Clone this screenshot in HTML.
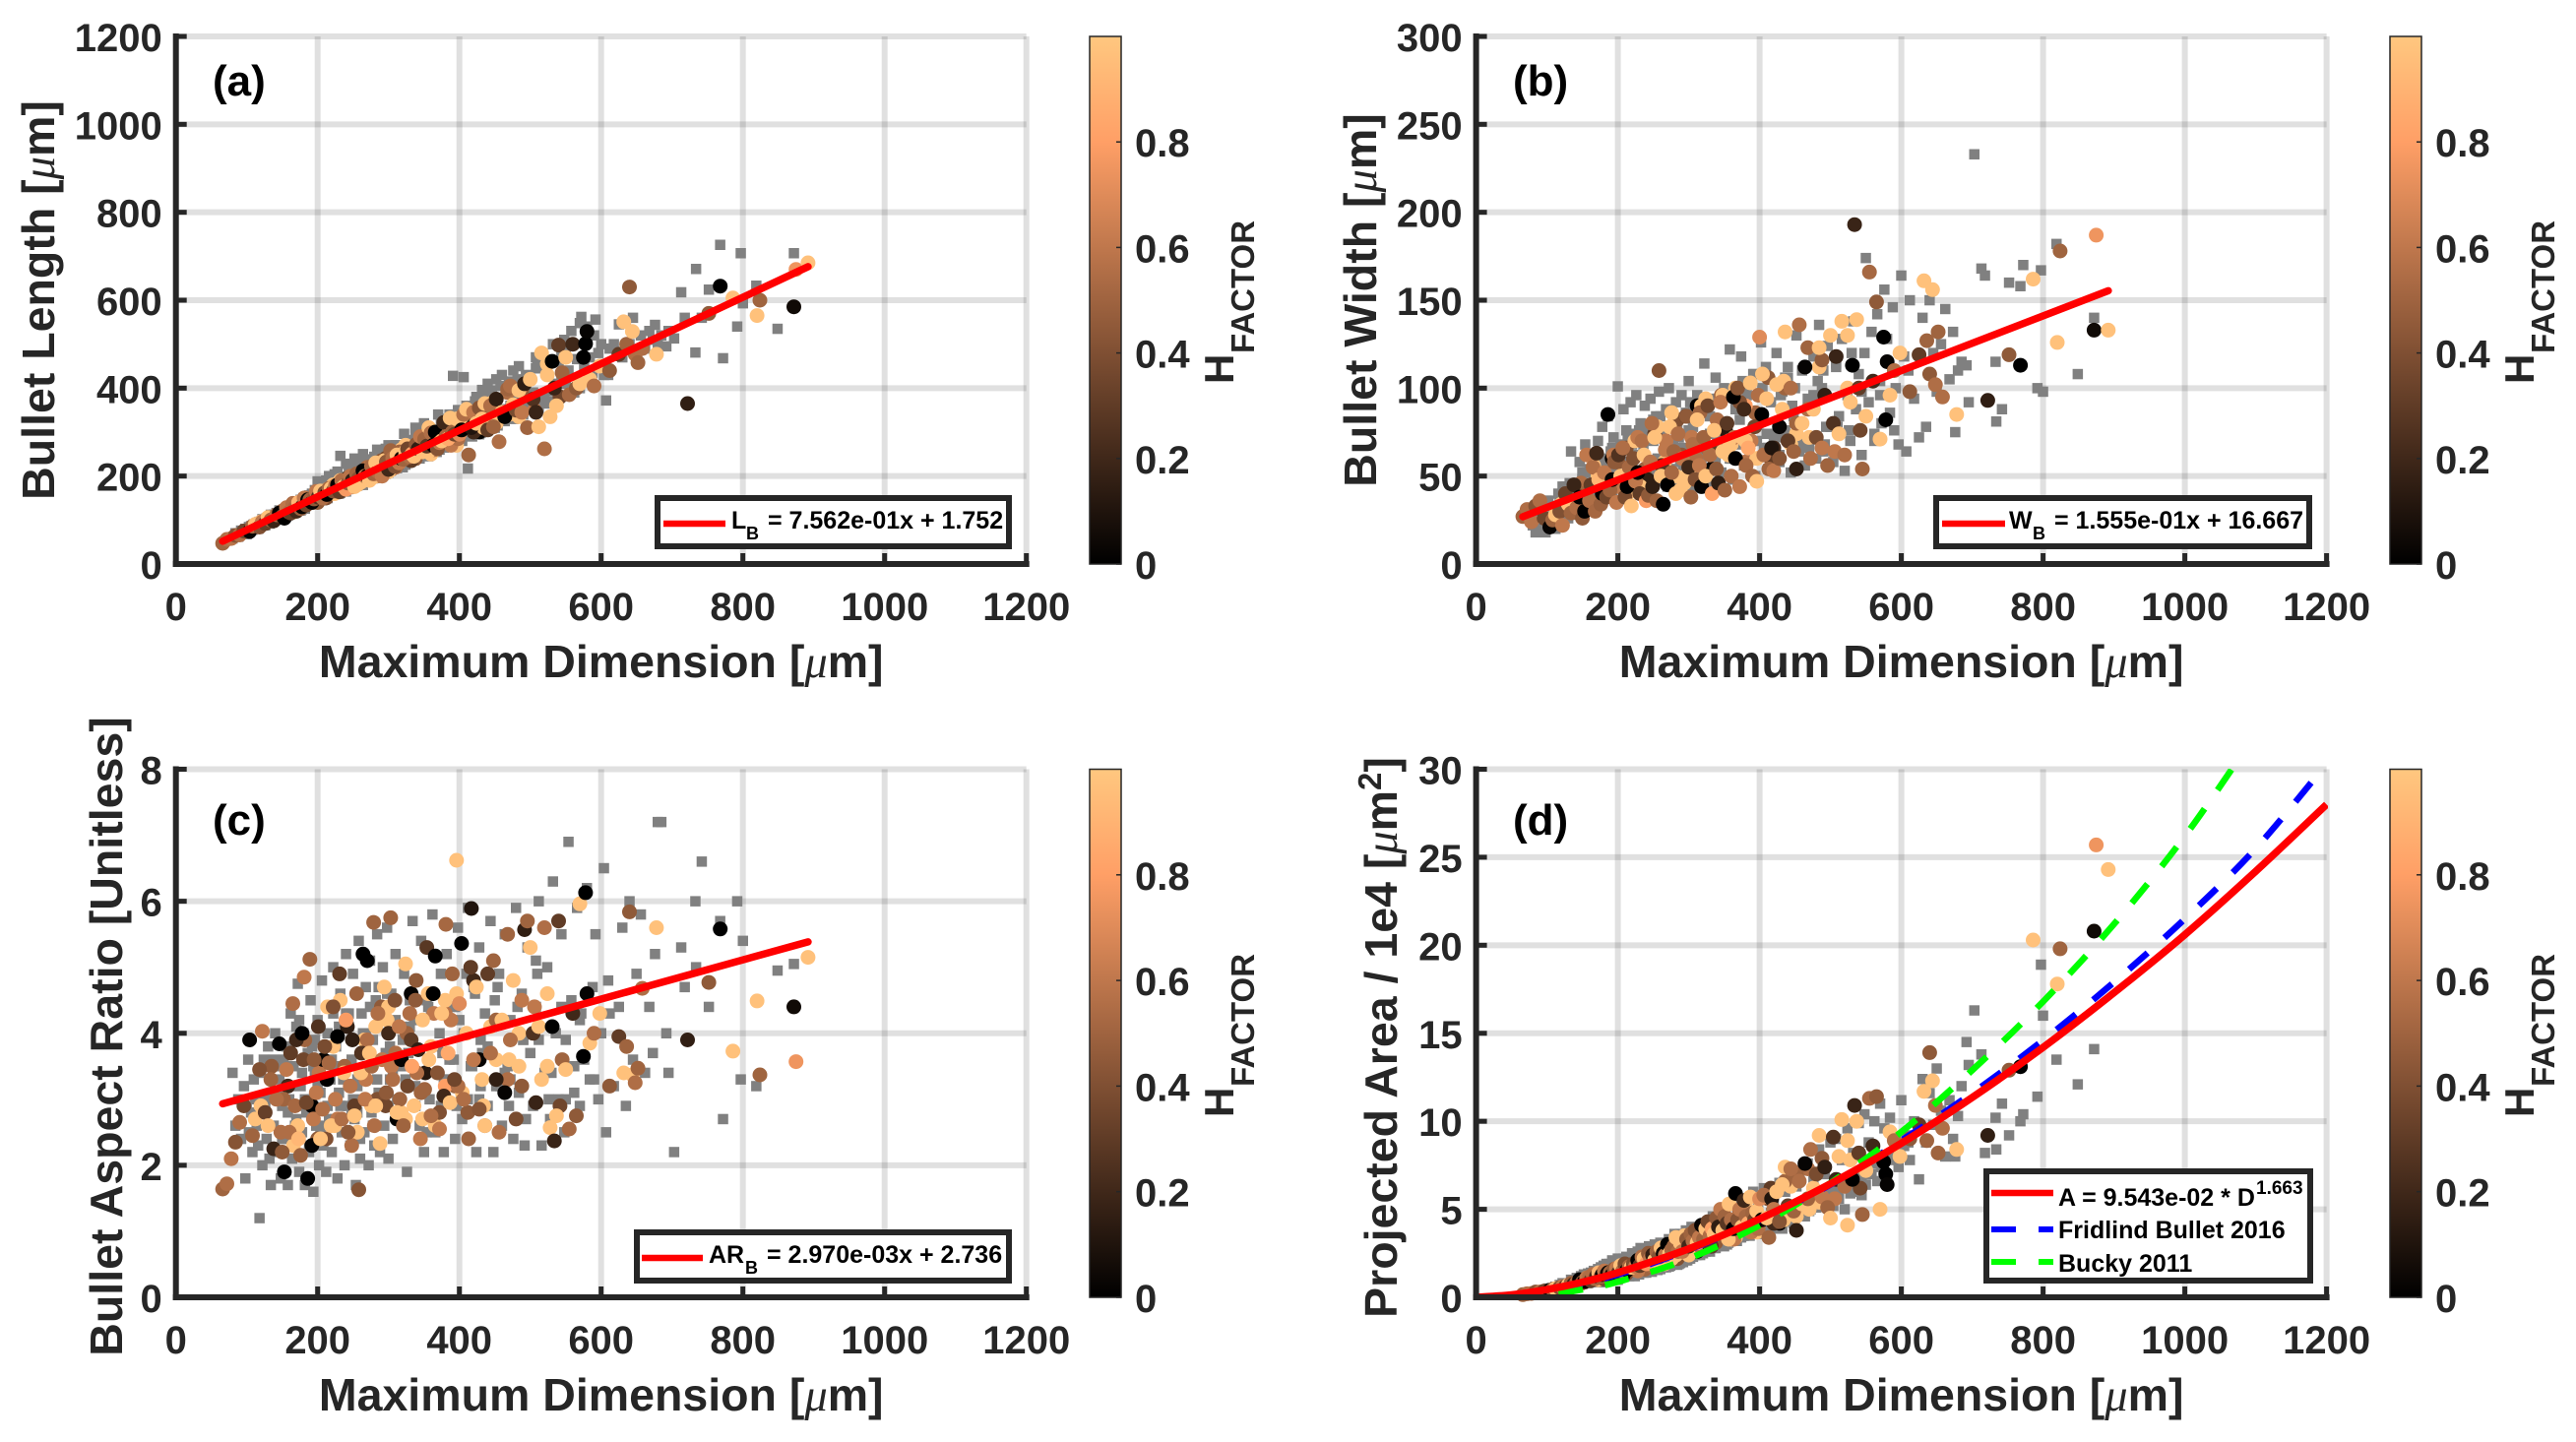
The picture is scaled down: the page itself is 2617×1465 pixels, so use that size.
<!DOCTYPE html>
<html lang="en">
<head>
<meta charset="utf-8">
<title>Bullet rosette geometry vs maximum dimension</title>
<style>
html,body{margin:0;padding:0;background:#fff;}
svg{display:block;}
text{font-family:"Liberation Sans",Arial,sans-serif;font-weight:bold;}
.tick{font-size:40px;fill:#262626;}
.axl{font-size:46.5px;fill:#262626;}
.mu{font-family:"Liberation Serif",serif;font-style:italic;font-weight:normal;}
.tag{font-size:44px;fill:#000;}
.lg{font-size:25px;fill:#000;}
.lgs{font-size:18px;fill:#000;}
.cbh{font-size:42px;fill:#262626;}
.cbs{font-size:33px;fill:#262626;}
</style>
</head>
<body>
<svg id="figure" xmlns="http://www.w3.org/2000/svg" width="2617" height="1465" viewBox="0 0 2617 1465">
<defs>
<linearGradient id="copper-map" x1="0" y1="1" x2="0" y2="0">
<stop offset="0" stop-color="rgb(0,0,0)"/>
<stop offset="0.8" stop-color="rgb(255,159,102)"/>
<stop offset="1" stop-color="rgb(255,199,127)"/>
</linearGradient>
<clipPath id="clip-d"><rect x="1499" y="781" width="866" height="540"/></clipPath>
</defs>

<g id="panel-a">
<g id="layer-a"></g>
<text class="tag" x="216" y="97">(a)</text>
<text class="axl" x="610.7" y="688" text-anchor="middle">Maximum Dimension [<tspan class="mu">μ</tspan>m]</text>
<text class="axl" transform="translate(55,305) rotate(-90)" text-anchor="middle">Bullet Length [<tspan class="mu">μ</tspan>m]</text>
<rect x="668" y="506" width="357" height="49" fill="#fff" stroke="#262626" stroke-width="6"/>
<line x1="674" x2="737" y1="532" y2="532" stroke="#f00" stroke-width="6.5"/>
<text class="lg" x="743" y="537">L</text>
<text class="lgs" x="758" y="548">B</text>
<text class="lg" x="780" y="537">= 7.562e-01x + 1.752</text>
</g>

<g id="panel-b">
<g id="layer-b"></g>
<text class="tag" x="1537" y="97">(b)</text>
<text class="axl" x="1931.6" y="688" text-anchor="middle">Maximum Dimension [<tspan class="mu">μ</tspan>m]</text>
<text class="axl" transform="translate(1398,305) rotate(-90)" text-anchor="middle">Bullet Width [<tspan class="mu">μ</tspan>m]</text>
<rect x="1967" y="506" width="379" height="49" fill="#fff" stroke="#262626" stroke-width="6"/>
<line x1="1973" x2="2037" y1="532" y2="532" stroke="#f00" stroke-width="6.5"/>
<text class="lg" x="2041" y="537">W</text>
<text class="lgs" x="2065" y="548">B</text>
<text class="lg" x="2087" y="537">= 1.555e-01x + 16.667</text>
</g>

<g id="panel-c">
<g id="layer-c"></g>
<text class="tag" x="216" y="848">(c)</text>
<text class="axl" x="610.7" y="1433" text-anchor="middle">Maximum Dimension [<tspan class="mu">μ</tspan>m]</text>
<text class="axl" transform="translate(124,1053) rotate(-90)" text-anchor="middle">Bullet Aspect Ratio [Unitless]</text>
<rect x="647" y="1252" width="378" height="49" fill="#fff" stroke="#262626" stroke-width="6"/>
<line x1="652" x2="714" y1="1278" y2="1278" stroke="#f00" stroke-width="6.5"/>
<text class="lg" x="720" y="1283">AR</text>
<text class="lgs" x="757" y="1294">B</text>
<text class="lg" x="779" y="1283">= 2.970e-03x + 2.736</text>
</g>

<g id="panel-d">
<g id="layer-d"></g>
<text class="tag" x="1537" y="848">(d)</text>
<text class="axl" x="1931.6" y="1433" text-anchor="middle">Maximum Dimension [<tspan class="mu">μ</tspan>m]</text>
<text class="axl" transform="translate(1419,1054) rotate(-90)" text-anchor="middle">Projected Area / 1e4 [<tspan class="mu">μ</tspan>m<tspan dy="-16" font-size="33">2</tspan><tspan dy="16">]</tspan></text>
<rect x="2018" y="1190" width="329" height="111" fill="#fff" stroke="#262626" stroke-width="6"/>
<line x1="2023" x2="2086" y1="1212" y2="1212" stroke="#f00" stroke-width="6.5"/>
<line x1="2023" x2="2086" y1="1249" y2="1249" stroke="#00f" stroke-width="6" stroke-dasharray="25 23"/>
<line x1="2023" x2="2086" y1="1282" y2="1282" stroke="#0f0" stroke-width="6" stroke-dasharray="25 23"/>
<text class="lg" x="2091" y="1225">A = 9.543e-02 * D</text>
<text class="lgs" x="2292" y="1213" style="font-size:19px">1.663</text>
<text class="lg" x="2091" y="1258">Fridlind Bullet 2016</text>
<text class="lg" x="2091" y="1292">Bucky 2011</text>
</g>

<g>
<g><text class="cbh" transform="translate(1253,390) rotate(-90)">H</text><text class="cbs" transform="translate(1274,359) rotate(-90)">FACTOR</text></g>
<g><text class="cbh" transform="translate(2574,390) rotate(-90)">H</text><text class="cbs" transform="translate(2595,359) rotate(-90)">FACTOR</text></g>
<g><text class="cbh" transform="translate(1253,1135) rotate(-90)">H</text><text class="cbs" transform="translate(1274,1104) rotate(-90)">FACTOR</text></g>
<g><text class="cbh" transform="translate(2574,1135) rotate(-90)">H</text><text class="cbs" transform="translate(2595,1104) rotate(-90)">FACTOR</text></g>
</g>
</svg>

<script>
// ---------- tick labels ----------
const xTicks = [0,200,400,600,800,1000,1200];
const yTicksA = [0,200,400,600,800,1000,1200];
const yTicksB = [0,50,100,150,200,250,300];
const yTicksC = [0,2,4,6,8];
const yTicksD = [0,5,10,15,20,25,30];
const cbTicks = [0,0.2,0.4,0.6,0.8];

// ---------- grey (all particles) series ----------
const grayD = [
100,110,116,124,132,144,156,168,178,188,
103,126,138,150,162,174,184,194,204,214,
146,158,170,182,196,208,220,232,244,256,
176,192,206,222,236,250,264,278,292,306,
200,216,230,246,260,274,288,302,316,330,
224,240,256,272,286,300,318,336,354,372,
248,268,284,298,312,328,344,360,378,396,
282,296,310,324,340,358,376,394,412,430,
320,338,356,374,392,410,428,446,464,482,
350,368,386,404,422,440,458,476,494,512,
400,418,436,454,472,490,508,526,544,562,
430,450,470,490,510,530,550,570,590,610,
80,84,88,92,96,98,102,106,108,112,
114,118,120,122,126,128,130,134,136,138,
140,142,146,148,150,152,154,158,160,162,
164,166,170,172,174,176,178,180,182,184,
186,188,190,192,194,196,198,200,202,204,
206,208,210,212,214,216,218,220,222,224,
226,228,230,232,234,236,238,240,242,244,
246,248,250,252,254,256,258,260,262,264,
266,268,270,272,274,276,278,280,282,284,
286,288,290,292,294,296,298,300,302,304,
306,310,314,318,322,326,330,334,338,342,
346,350,354,358,362,366,370,374,378,382,
386,391,394,398,402,406,409,412,416,420,
424,428,432,436,440,444,448,452,456,460,
464,468,472,476,480,484,488,492,496,500,
504,508,512,516,520,524,528,532,536,540,
544,548,550,554,558,562,566,570,572,576,
580,584,588,592,596,600,604,607,612,618,
625,630,635,640,645,650,656,662,668,673,
676,680,685,692,695,703,713,718,733,734,
742,752,768,772,792,797,800,819,849,872];
const grayL = [
68,90,80,100,92,115,110,135,125,150,
84,88,112,104,130,122,150,136,165,150,
122,110,138,126,160,146,178,162,196,178,
122,158,145,180,165,200,180,226,205,250,
142,176,160,200,180,222,200,258,220,272,
180,165,210,190,242,208,265,236,295,260,
175,225,198,255,218,280,240,305,265,340,
240,205,270,226,290,250,330,275,360,298,
220,295,245,325,270,360,295,395,325,420,
300,255,340,280,370,305,405,330,430,355,
350,290,385,315,415,340,445,365,480,390,
380,310,415,345,450,370,490,400,520,430,
58,70,62,76,68,80,72,86,78,90,
80,96,88,102,92,104,94,112,98,110,
100,116,108,120,110,124,118,130,116,128,
122,134,128,142,130,146,132,150,136,148,
140,156,144,160,146,168,150,188,152,170,
152,178,148,190,160,200,162,190,168,204,
172,210,166,246,176,198,180,228,184,210,
184,222,190,240,194,212,200,232,192,250,
200,226,206,238,198,228,210,244,214,260,
218,250,208,234,222,262,226,270,216,236,
240,226,270,238,296,232,282,248,310,258,
262,320,270,306,276,290,340,296,272,330,
300,428,296,350,314,425,330,217,360,322,
380,316,396,340,410,328,370,420,350,430,
352,400,360,440,372,450,380,400,368,420,
390,470,386,480,376,430,394,500,410,460,
420,510,410,440,530,400,466,548,562,450,
540,470,434,556,480,500,430,372,490,500,
545,470,550,500,560,480,520,490,530,510,
544,500,520,495,530,513,618,560,481,671,
560,624,726,468,540,707,593,633,535,707];
const grayW = [
36,24,40,28,46,32,52,38,60,42,
26,44,30,52,36,58,40,66,44,72,
46,34,56,38,62,42,68,46,76,50,
36,66,44,74,48,82,52,70,56,88,
64,42,76,50,84,54,66,92,58,74,
46,72,54,88,62,76,56,94,66,82,
72,50,80,58,96,64,74,60,100,70,
62,84,56,92,70,60,104,78,66,96,
86,60,96,68,108,74,62,90,70,104,
66,92,60,100,74,112,68,96,78,84,
84,60,106,70,92,64,114,76,98,70,
72,100,66,110,78,120,84,96,76,110,
22,18,30,20,26,18,36,24,32,20,
28,38,24,44,30,36,26,64,34,30,
42,28,58,34,48,30,68,40,54,32,
60,44,36,70,50,38,78,46,56,40,
84,48,64,42,72,52,60,101,44,68,
50,88,40,76,58,46,92,54,70,44,
96,62,48,80,52,66,90,42,74,58,
94,50,70,46,84,60,98,48,76,56,
68,88,44,100,54,78,62,50,92,46,
72,58,96,48,66,86,52,104,60,44,
78,50,94,62,114,46,84,56,106,70,
52,100,64,122,48,88,72,118,56,96,
60,108,50,80,126,66,112,54,92,72,
120,58,98,76,106,52,84,130,64,110,
56,94,72,118,60,136,100,68,124,78,
58,112,84,128,53,96,70,138,88,108,
62,120,174,92,132,74,142,104,80,156,
128,86,146,100,68,164,118,64,150,94,
72,140,78,150,120,98,125,145,105,132,
75,110,115,113,92,233,168,164,115,81,
88,160,158,170,100,167,98,182,108,140];
const grayAR = [
2.9,3.3,2.3,3.6,2.1,3.1,3.8,2.6,3.4,2.2,
2.5,3.0,3.6,2.4,3.2,4.2,2.8,3.5,2.5,4.0,
3.5,2.8,4.1,3.0,3.9,2.3,3.6,2.9,4.3,3.3,
2.9,3.8,2.6,4.3,3.3,3.0,4.0,2.6,4.4,3.4,
3.2,2.7,4.1,3.5,2.4,4.4,3.0,3.8,2.7,4.5,
3.5,4.3,2.8,3.7,4.7,2.9,3.5,4.2,2.5,4.0,
2.8,4.0,3.3,4.6,3.0,3.7,2.6,4.3,3.3,2.9,
3.6,2.9,4.2,3.3,4.8,2.7,3.7,4.4,3.0,3.9,
3.9,3.2,4.4,2.9,3.6,4.9,3.0,4.1,3.4,4.4,
3.1,4.3,3.6,2.7,4.6,3.8,3.2,4.8,2.7,3.9,
4.2,3.5,2.6,4.7,3.3,3.9,5.1,3.0,4.4,3.5,
3.2,4.5,2.9,3.9,4.9,3.4,3.0,4.2,3.3,4.8,
3.4,2.6,3.0,2.4,3.2,1.8,3.6,2.8,2.2,3.0,
2.6,1.2,3.4,2.0,2.9,2.4,3.8,1.7,3.1,2.6,
4.0,2.2,3.3,1.8,2.9,3.6,2.4,1.7,3.0,4.3,
2.1,3.5,2.7,4.75,1.9,3.2,2.5,4.0,1.7,2.9,
3.7,2.3,4.5,3.0,1.6,3.4,2.6,4.2,2.0,3.1,
4.8,2.4,3.6,1.9,2.9,4.4,3.3,2.2,5.0,2.7,
3.8,1.8,3.1,4.6,2.5,3.4,2.0,5.2,2.9,4.1,
2.3,3.6,4.9,2.7,1.7,3.2,5.4,2.1,4.3,3.0,
2.5,4.7,3.5,2.0,5.1,2.8,3.9,2.3,4.5,5.5,
3.1,2.2,4.2,5.0,2.6,3.7,5.6,2.1,3.3,4.6,
2.4,5.2,3.6,2.8,4.9,1.9,4.1,5.7,2.9,3.4,
5.4,2.2,4.5,3.0,5.8,2.5,3.8,4.9,2.2,5.2,
3.3,4.4,2.4,5.6,3.0,4.0,2.8,5.9,3.5,4.7,
2.2,5.3,3.7,4.3,2.9,5.7,2.2,3.2,4.9,2.6,
5.5,3.5,4.2,2.4,5.9,3.1,4.6,2.3,5.3,3.7,
2.9,4.4,6.0,2.3,3.4,5.0,2.7,6.3,4.0,3.0,
5.5,2.5,3.9,6.9,4.5,3.1,5.9,2.9,4.3,3.6,
6.2,3.3,4.7,5.5,3.0,4.0,6.5,2.5,4.3,3.2,
4.4,5.6,2.9,6.0,3.6,4.9,5.8,3.4,4.4,3.7,
5.2,7.2,7.2,4.0,3.4,2.2,5.3,4.7,6.0,5.0,
6.6,4.4,5.7,2.7,6.0,3.3,5.4,3.2,4.95,5.05];
const grayA = [
.35,.4,.5,.5,.65,.7,.8,.9,1.05,1.1,
.3,.55,.65,.75,.85,1.0,1.1,1.25,1.25,1.45,
.7,.8,.9,1.05,1.15,1.25,1.35,1.5,1.55,1.7,
.85,1.05,1.15,1.3,1.4,1.55,1.7,1.9,2.0,2.3,
1.0,1.2,1.3,1.5,1.6,1.8,1.95,2.2,2.4,2.6,
1.2,1.4,1.55,1.75,1.9,2.2,2.5,2.8,3.0,3.4,
1.45,1.7,1.85,2.1,2.4,2.7,3.0,3.2,3.5,3.9,
1.9,2.1,2.4,2.6,2.9,3.2,3.5,3.8,4.2,4.5,
2.5,2.8,3.1,3.4,3.8,4.1,4.5,4.9,5.3,5.7,
2.9,3.2,3.5,3.9,4.3,4.7,5.0,5.4,6.0,6.5,
3.6,3.9,4.3,4.7,5.0,5.4,6.0,6.4,6.9,7.6,
4.1,4.5,4.9,5.3,6.0,6.4,7.0,7.6,8.0,8.8,
.25,.3,.3,.4,.4,.35,.5,.5,.45,.6,
.55,.7,.6,.8,.7,.75,.65,1.0,.8,.95,
.9,1.1,.9,1.2,1.0,1.3,1.05,1.35,1.1,1.4,
1.2,1.5,1.3,1.6,1.25,1.7,1.35,1.8,1.4,1.9,
1.45,1.9,1.5,2.1,1.55,1.9,1.6,2.2,1.5,1.95,
1.6,2.2,1.7,2.3,1.75,2.1,1.8,2.5,1.8,2.2,
1.85,2.6,1.9,2.8,2.0,2.4,2.0,2.7,2.1,2.9,
2.1,2.6,2.2,3.0,2.2,2.7,2.3,3.1,2.3,3.0,
2.4,3.0,2.4,3.3,2.5,3.2,2.6,3.6,2.6,3.3,
2.7,3.6,2.7,3.5,2.9,3.8,2.8,3.4,3.0,4.0,
2.9,3.6,3.2,4.1,3.3,3.8,3.4,4.6,3.6,4.2,
3.6,4.8,3.9,4.5,4.0,5.2,3.9,4.9,4.2,5.6,
4.0,6.0,4.2,5.1,4.5,6.2,3.8,5.7,4.8,5.4,
4.4,6.5,3.9,6.0,4.8,6.8,4.2,6.3,5.0,7.2,
4.6,7.6,5.3,6.6,5.1,8.4,5.4,7.0,5.6,8.8,
5.2,9.0,5.6,7.8,5.0,9.6,5.9,8.2,6.0,9.9,
5.8,10.4,6.4,8.8,7.0,10.0,6.6,11.0,7.4,9.6,
6.8,10.2,7.8,9.0,7.4,11.2,8.6,9.2,7.8,10.0,
6.7,12.4,8.8,11.6,9.8,13.0,10.6,8.0,11.2,9.0,
8.0,10.3,12.0,14.5,13.2,16.3,13.8,8.2,10.2,8.4,
11.0,9.2,10.0,10.4,11.4,18.9,16.0,13.5,12.1,14.1];

// ---------- coloured (H-factor) series ----------
const colorD = [
120,135,148,158,172,182,192,202,212,222,
152,166,180,194,208,224,238,252,266,280,
200,214,228,242,256,270,284,298,312,326,
232,248,262,276,290,304,318,332,346,360,
268,282,296,310,324,338,352,366,380,394,
300,316,332,348,364,380,396,412,428,444,
340,356,372,388,404,420,436,452,468,484,
380,398,416,434,452,470,488,506,524,542,
66,72,78,84,90,96,104,108,112,118,
122,126,130,134,138,142,146,150,153,156,
160,162,165,168,170,173,176,178,181,184,
186,189,192,195,198,201,204,207,210,213,
216,219,222,225,228,231,234,237,240,243,
246,249,252,255,258,261,264,267,270,273,
276,279,282,285,288,291,294,297,300,303,
306,309,312,315,318,321,324,327,330,333,
336,339,342,345,348,351,354,357,360,363,
366,369,372,375,378,381,384,387,390,393,
396,400,403,406,410,413,417,420,424,428,
432,436,440,444,448,452,456,460,464,468,
472,476,480,484,488,492,496,500,504,508,
512,516,520,524,528,531,534,537,540,545,
550,555,560,565,570,575,578,580,584,590,
598,612,625,632,636,640,644,648,652,658,
678,722,752,768,786,820,824,872,875,892];
const colorH = [
.97,.45,.55,.2,.97,.5,0,.6,.4,.97,
.5,.97,.35,.6,.02,.97,.5,.3,.97,.55,
.45,.97,.6,.15,.97,.55,.4,.97,0,.5,
.97,.55,.25,.97,.45,.6,.97,.02,.5,.97,
.6,.97,.35,.55,.97,.45,.12,.97,.58,.5,
.97,.5,.3,.97,.6,.8,.97,.45,.02,.97,
.55,.97,.4,.6,.97,.2,.5,.97,.55,.97,
.97,.55,.3,.97,.5,.97,.45,.6,.97,.35,
.5,.55,.58,.42,.55,.35,.02,.5,.97,.4,
.6,.32,.97,.5,.18,.55,0,.45,0,.6,
.55,.3,.55,.52,.2,.92,.48,0,.6,.35,
0,.5,.02,.45,.6,.25,.97,.55,.38,0,
.52,.97,.4,.6,0,.3,.55,.97,.78,.45,
.58,.15,.97,.5,.42,.97,0,.6,0,.97,
.52,.5,.97,.55,.97,.6,.97,.45,.2,.5,
.55,.4,.97,.6,.02,.5,.97,.35,.55,.82,
.97,.45,.15,.6,.97,.5,.28,.97,.55,0,
0,.42,.6,.97,.2,.52,.85,.97,.5,.35,
.97,.7,0,.55,.97,.5,.1,.6,.97,.42,
.97,.97,.3,.55,.5,.15,.55,.97,.02,.5,
.55,.97,.38,.97,.6,.15,.5,.97,.25,.18,
.97,.97,.55,.97,.97,0,.18,.97,.3,.5,
.97,.52,.2,.45,.97,0,0,.02,.97,.55,
.97,.45,.3,.97,.5,.45,.97,.55,.5,.55,
.97,.15,.45,0,.97,.97,.5,.05,.75,.97];
const colorL = [
96,98,118,118,125,150,140,160,150,180,
122,118,145,140,165,160,190,180,210,200,
140,170,165,195,180,220,200,240,225,265,
190,175,210,195,235,215,260,235,285,250,
215,200,240,220,270,240,290,260,310,280,
210,255,235,285,260,310,270,340,300,365,
270,255,300,270,330,300,350,320,390,335,
320,285,340,310,375,340,395,350,430,380,
47,56,58,65,66,75,74,86,90,84,
96,92,106,100,98,112,116,108,104,128,
118,116,138,128,120,140,126,130,150,134,
146,146,140,148,165,152,166,150,162,158,
172,172,166,178,180,164,190,176,170,184,
200,190,176,205,195,186,212,200,200,190,
222,205,230,210,225,200,235,232,215,258,
240,222,248,230,240,238,256,262,244,250,
245,272,262,290,255,284,268,310,298,270,
300,262,276,280,322,290,285,332,300,295,
330,295,305,340,352,248,310,345,320,355,
330,365,305,360,312,375,278,345,335,398,
405,362,350,395,345,410,310,420,375,345,
312,480,262,455,335,461,400,360,498,435,
470,385,500,400,410,470,501,529,420,405,
450,440,477,551,500,630,529,477,458,490,
477,365,570,632,605,565,600,585,670,685];
const colorW = [
34,30,46,36,50,38,60,44,66,48,
40,56,46,62,50,70,54,74,58,80,
58,40,72,48,78,52,82,60,90,66,
44,80,56,86,62,72,90,54,96,68,
70,50,84,60,94,66,76,100,58,86,
52,86,64,96,72,90,60,106,78,68,
82,62,92,70,108,66,100,74,88,112,
70,96,60,104,80,72,116,64,100,76,
27,31,24,33,36,26,21,25,28,30,
22,40,34,29,45,32,38,26,30,62,
36,45,55,30,63,48,34,40,52,38,
85,42,48,58,35,62,50,66,38,44,
55,33,60,47,52,40,70,62,36,39,
58,44,72,36,110,50,34,65,45,78,
52,64,40,74,42,60,46,84,55,38,
68,48,82,56,44,72,50,90,62,40,
76,54,46,92,64,42,80,70,50,95,
60,100,44,72,88,56,66,103,50,78,
47,129,85,62,94,54,66,53,102,60,
88,132,70,100,64,54,136,80,112,123,
60,88,72,123,66,96,56,130,80,118,
74,138,62,130,92,113,193,139,100,54,
84,166,104,149,71,129,82,115,96,110,
120,98,119,161,127,108,156,102,132,95,
85,93,119,113,162,126,178,133,187,133];
const colorAR = [
2.9,3.5,2.5,3.2,2.6,3.9,2.9,3.4,2.4,3.8,
3.0,2.3,3.6,2.7,3.6,2.6,3.5,2.9,3.9,2.6,
2.4,4.4,2.7,4.1,2.5,3.9,3.0,4.2,2.7,4.0,
4.5,2.3,3.7,2.9,4.4,3.5,2.8,4.6,3.1,3.8,
3.3,4.1,2.9,3.7,2.7,4.5,3.4,2.6,4.3,3.2,
4.4,3.0,3.9,2.7,4.3,3.2,4.6,2.8,3.6,4.1,
3.4,4.6,2.8,4.2,3.1,4.8,2.6,3.6,3.3,4.0,
4.5,3.2,5.0,2.9,4.2,3.6,3.2,4.4,3.5,2.9,
1.64,1.72,2.1,2.35,2.65,2.9,3.9,2.45,2.7,3.45,
4.03,2.8,2.6,3.3,2.25,3.0,3.84,2.2,1.9,3.45,
2.5,3.7,4.45,2.9,3.9,2.4,2.15,4.0,4.85,2.95,
1.8,5.12,2.3,3.6,3.1,4.1,2.4,2.85,3.8,3.3,
3.55,2.6,4.4,3.0,3.95,4.9,2.7,3.4,4.2,2.5,
3.2,3.9,2.75,4.6,1.63,3.4,5.2,3.0,5.1,3.7,
3.5,5.68,2.9,4.3,2.33,3.6,4.7,3.1,4.0,5.75,
3.3,4.5,2.8,4.1,3.6,2.6,5.05,3.2,4.3,3.5,
2.9,4.8,3.75,2.4,4.2,3.15,5.3,3.6,2.75,4.6,
5.17,3.4,2.55,4.3,3.05,5.65,3.7,2.95,4.9,3.3,
6.62,4.45,5.36,3.0,4.0,2.4,5.89,3.6,4.7,2.85,
3.3,2.6,4.9,3.7,5.1,3.3,2.5,4.2,3.1,5.5,
3.9,4.8,2.7,3.5,4.5,5.57,5.7,5.3,4.0,2.95,
4.1,3.3,5.6,4.6,2.57,4.1,2.37,2.75,5.7,3.6,
3.45,2.55,4.3,2.75,5.96,3.65,6.13,4.6,3.85,4.0,
4.3,3.2,3.95,3.4,3.8,5.84,3.37,3.25,3.47,4.68,
5.6,3.9,4.77,5.58,3.73,4.49,3.37,4.4,3.57,5.15];
const colorA = [
.55,.75,.8,1.1,1.0,1.3,1.15,1.55,1.35,1.85,
.85,1.2,1.05,1.55,1.3,1.9,1.6,2.3,1.9,2.8,
1.15,1.7,1.5,2.25,1.8,2.7,2.2,3.2,2.6,3.6,
1.9,1.8,2.6,2.2,3.1,2.6,3.5,2.9,4.1,3.3,
2.6,2.4,3.3,2.8,3.9,3.1,4.5,3.4,5.0,3.9,
2.4,3.5,2.9,4.3,3.3,5.0,3.7,5.6,4.2,6.3,
3.9,3.3,4.9,3.7,5.7,4.2,6.6,4.6,7.3,5.4,
5.2,3.9,6.2,4.4,7.0,5.0,7.9,5.6,8.9,6.2,
.15,.2,.22,.3,.3,.35,.4,.45,.5,.55,
.6,.6,.7,.8,.75,.85,1.0,.85,.9,1.1,
1.15,.95,1.3,1.05,1.2,1.4,1.15,1.3,1.5,1.3,
1.4,1.4,1.3,1.6,1.65,1.4,1.8,1.5,1.9,1.55,
1.75,1.7,1.9,1.75,2.1,1.8,2.3,2.2,1.9,2.5,
2.2,2.4,2.1,2.6,2.3,2.8,2.5,2.4,3.0,2.5,
2.7,2.9,3.4,2.6,3.1,2.6,3.5,3.3,2.9,3.6,
3.2,3.8,3.1,3.4,4.1,3.3,3.9,4.3,3.5,3.9,
3.6,4.5,4.0,5.0,3.8,4.6,4.2,5.3,4.4,3.9,
5.9,4.4,5.0,4.0,5.5,4.6,4.2,5.7,4.8,4.4,
4.9,5.6,4.4,5.8,4.5,3.4,5.6,5.0,6.0,4.3,
6.4,7.4,5.2,7.3,4.9,3.8,6.6,5.3,7.6,5.6,
8.4,6.2,7.0,9.2,5.7,7.4,5.1,4.5,9.1,6.7,
8.0,10.1,6.3,4.1,7.8,6.7,10.9,10.0,8.2,4.7,
7.2,11.3,8.6,11.4,5.0,7.7,7.0,6.4,9.4,8.9,
8.0,9.0,9.8,11.7,8.9,13.9,12.3,10.9,8.2,9.6,
8.4,9.2,12.9,13.1,20.3,17.8,19.8,20.8,25.7,24.3];

// ---------- fit lines ----------
const fitD = [66,892];
const fitL = [51.7,676.3];
const fitW = [26.9,155.4];
const fitAR = [2.932,5.385];

// ---------- panel (d) curves ----------
const areaFitD = [0,50,100,150,200,300,400,500,600,700,800,900,1000,1100,1200];
const areaFit = [0,.14,.44,.86,1.4,2.75,4.45,6.45,8.75,11.35,14.2,17.3,20.6,24.2,28.0];
const fridlindD = [50,100,200,300,400,500,600,700,800,900,1000,1100,1200];
const fridlind = [.1,.3,1.3,2.7,4.4,6.4,8.9,11.6,14.6,17.9,21.5,25.5,30.3];
const buckyD = [50,100,150,200,300,400,500,600,700,800,900,1000,1100];
const bucky = [0,.12,.45,.88,2.2,4.1,6.5,9.4,12.9,16.8,21.2,26.2,32];

const X_MAX = 1200;
const NS = 'http://www.w3.org/2000/svg';

function mk(tag, parent, name, attrs) {
  const el = document.createElementNS(NS, tag);
  
  
  for (const k in attrs) el.setAttribute(k, attrs[k]);
  parent.appendChild(el);
  return el;
}

function copper(h) {
  const r = Math.min(1, 1.25 * h) * 255;
  const g = 0.7812 * h * 255;
  const b = 0.4975 * h * 255;
  return 'rgb(' + Math.round(r) + ',' + Math.round(g) + ',' + Math.round(b) + ')';
}

function smoothPath(xs, ys) {
  let d = 'M' + xs[0].toFixed(1) + ' ' + ys[0].toFixed(1);
  for (let i = 0; i < xs.length - 1; i++) {
    const i0 = Math.max(0, i - 1), i3 = Math.min(xs.length - 1, i + 2);
    const c1x = xs[i] + (xs[i + 1] - xs[i0]) / 6, c1y = ys[i] + (ys[i + 1] - ys[i0]) / 6;
    const c2x = xs[i + 1] - (xs[i3] - xs[i]) / 6, c2y = ys[i + 1] - (ys[i3] - ys[i]) / 6;
    d += 'C' + c1x.toFixed(1) + ' ' + c1y.toFixed(1) + ' ' + c2x.toFixed(1) + ' ' + c2y.toFixed(1) + ' ' + xs[i + 1].toFixed(1) + ' ' + ys[i + 1].toFixed(1);
  }
  return d;
}

function drawPanel(id, x0, x1, y0, y1, yMax, yTicks, gray, color, cbX) {
  const layer = document.getElementById('layer-' + id);
  const sx = v => x0 + (v / X_MAX) * (x1 - x0);
  const sy = v => y0 - (v / yMax) * (y0 - y1);

  // grid
  const grid = mk('g', layer, 'grid-' + id, {stroke: '#262626', 'stroke-opacity': '0.14', 'stroke-width': '6'});
  xTicks.forEach(t => {
    if (t === 0) return;
    mk('line', grid, 'x-gridline', {x1: sx(t), x2: sx(t), y1: y0, y2: y1});
  });
  yTicks.forEach(t => {
    if (t === 0) return;
    mk('line', grid, 'y-gridline', {x1: x0, x2: x1, y1: sy(t), y2: sy(t)});
  });

  // grey squares
  const gg = mk('g', layer, 'all-particles-' + id, {fill: '#808080'});
  grayD.forEach((d, i) => {
    mk('rect', gg, 'gray-point', {x: (sx(d) - 5.25).toFixed(1), y: (sy(gray[i]) - 5.25).toFixed(1), width: 10.5, height: 10.5});
  });

  // coloured circles
  const cg = mk('g', layer, 'hfactor-particles-' + id, {});
  colorD.forEach((d, i) => {
    mk('circle', cg, 'hfactor-point', {cx: sx(d).toFixed(1), cy: sy(color[i]).toFixed(1), r: 7.5, fill: copper(colorH[i])});
  });

  // fit lines
  if (id === 'd') {
    const lines = mk('g', layer, 'curves-d', {fill: 'none', 'clip-path': 'url(#clip-d)', 'stroke-width': '6.5'});
    mk('path', lines, 'fridlind-curve', {d: smoothPath(fridlindD.map(sx), fridlind.map(sy)), stroke: '#00f', 'stroke-dasharray': '25 23'});
    mk('path', lines, 'bucky-curve', {d: smoothPath(buckyD.map(sx), bucky.map(sy)), stroke: '#0f0', 'stroke-dasharray': '25 23'});
    mk('path', lines, 'area-fit-curve', {d: smoothPath(areaFitD.map(sx), areaFit.map(sy)), stroke: '#f00', 'stroke-width': '7.5'});
  } else {
    const fit = id === 'a' ? fitL : id === 'b' ? fitW : fitAR;
    mk('line', layer, 'fit-line-' + id, {x1: sx(fitD[0]), y1: sy(fit[0]), x2: sx(fitD[1]), y2: sy(fit[1]), stroke: '#f00', 'stroke-width': '7.5', 'stroke-linecap': 'round'});
  }

  // axes
  const ax = mk('g', layer, 'axes-' + id, {stroke: '#262626', 'stroke-width': '6', fill: 'none'});
  mk('line', ax, 'y-axis-line', {x1: x0, x2: x0, y1: y1 - 3, y2: y0 + 3});
  mk('line', ax, 'x-axis-line', {x1: x0 - 3, x2: x1 + 3, y1: y0, y2: y0});
  xTicks.forEach(t => {
    mk('line', ax, 'x-tick', {x1: sx(t), x2: sx(t), y1: y0, y2: y0 - 11, 'stroke-width': '5'});
    const lab = mk('text', layer, 'x-tick-label', {x: sx(t), y: y0 + 57, 'text-anchor': 'middle', 'class': 'tick'});
    lab.textContent = t;
  });
  yTicks.forEach(t => {
    mk('line', ax, 'y-tick', {x1: x0, x2: x0 + 11, y1: sy(t), y2: sy(t), 'stroke-width': '5'});
    const lab = mk('text', layer, 'y-tick-label', {x: x0 - 14, y: sy(t) + 15, 'text-anchor': 'end', 'class': 'tick'});
    lab.textContent = t;
  });

  // colorbar
  const cb = mk('g', layer, 'colorbar-' + id, {});
  mk('rect', cb, 'colorbar-ramp', {x: cbX, y: y1, width: 32, height: y0 - y1, fill: 'url(#copper-map)', stroke: '#262626', 'stroke-width': '1.5'});
  cbTicks.forEach(t => {
    const y = y0 - t * (y0 - y1);
    mk('line', cb, 'colorbar-tick', {x1: cbX + 27, x2: cbX + 32, y1: y, y2: y, stroke: '#262626', 'stroke-width': '1.5'});
    const lab = mk('text', cb, 'colorbar-tick-label', {x: cbX + 46, y: y + 15, 'class': 'tick'});
    lab.textContent = t;
  });
}

drawPanel('a', 178.7, 1042.7, 573, 37, 1200, yTicksA, grayL, colorL, 1107);
drawPanel('b', 1499.6, 2363.6, 573, 37, 300, yTicksB, grayW, colorW, 2428);
drawPanel('c', 178.7, 1042.7, 1318, 781.5, 8, yTicksC, grayAR, colorAR, 1107);
drawPanel('d', 1499.6, 2363.6, 1318, 781.5, 30, yTicksD, grayA, colorA, 2428);
</script>
</body>
</html>
